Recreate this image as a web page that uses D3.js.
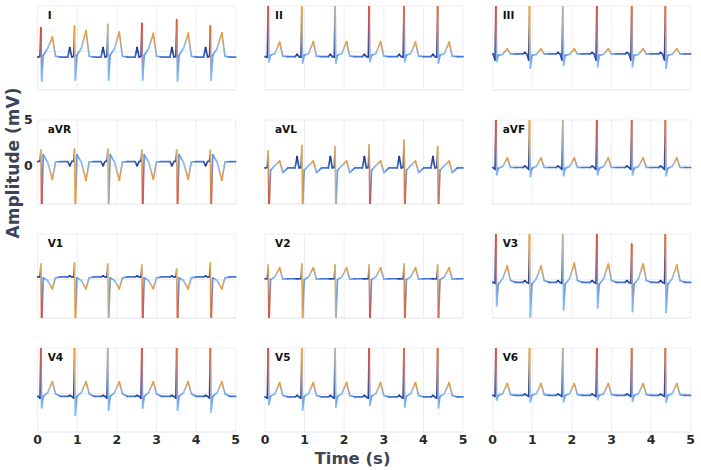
<!DOCTYPE html>
<html>
<head>
<meta charset="utf-8">
<script src="https://cdn.jsdelivr.net/npm/d3@7"></script>
<style>
  body { margin: 0; background: #fff; }
  svg { display: block; font-family: "DejaVu Sans", sans-serif; }
</style>
</head>
<body>
<svg id="chart" width="701" height="470"></svg>
<script>
// ---- data (mV, seconds) ----
const leads = ['I', 'II', 'III', 'aVR', 'aVL', 'aVF', 'V1', 'V2', 'V3', 'V4', 'V5', 'V6'];
const beatTimes = [0.08, 0.93, 1.77, 2.63, 3.51, 4.36];
const beatWeight = [1.0, 0.8, 0.66, 1.0, 0.95, 0.93];   // relevance at each R spike
const xTicks = [0, 1, 2, 3, 4, 5];
const yTicks = [0, 5];

// key points of one beat, offset from R (s)
const beatOffsets = [-0.17, -0.12, -0.07, -0.02, 0, 0.02, 0.06, 0.17, 0.29, 0.37, 0.5];
const pointWeight = [0.3, 0.05, 0.2, 0.1, null, null, 0.42, 0.55, 0.82, 0.5, 0.32];

const spikeDir  = [1, 1, 1, -1, -1, 1, -1, -1, 1, 1, 1, 1];
const baseLevel = [-0.6, -0.55, -0.25, 0.45, -0.25, -0.2, 0.3, 0.1, -0.3, -0.3, -0.36, -0.18];
const pWave     = [0.45, -0.3, -0.1, 0.0, 1.0, -0.05, 0.4, 0.1, -0.1, -0.2, -0.2, -0.05];
const qWave     = [-0.5, -0.6, -0.9, 0.5, -0.2, -0.4, 0.3, 0.1, -0.4, -0.5, -0.5, -0.3];
const jPoint    = [-0.4, -0.4, -0.4, 1.2, -0.5, -0.3, 0.2, 0.0, -0.5, -0.3, -0.3, -0.2];
const stLevel   = [0.35, -0.2, -0.3, 0.4, 0.0, -0.1, -0.1, 0.3, 0.1, 0.1, 0.0, 0.0];
const postT     = [-0.5, -0.5, -0.25, 0.4, -0.75, -0.2, 0.2, 0.05, -0.1, 0.0, -0.2, -0.1];

const rPeaks = [
  [2.6, 2.8, 3.0, 3.1, 3.5, 2.8],
  [5.5, 5.5, 5.5, 5.5, 5.5, 5.5],
  [5.5, 5.5, 5.5, 5.5, 5.5, 5.5],
  [1.7, 1.8, 1.8, 1.7, 1.7, 1.7],
  [1.6, 2.2, 2.05, 2.3, 2.8, 2.1],
  [5.5, 5.5, 5.5, 5.5, 5.5, 5.5],
  [1.7, 1.85, 1.7, 1.6, 1.15, 1.8],
  [1.6, 1.7, 1.6, 1.6, 1.7, 1.6],
  [5.5, 5.5, 5.5, 5.5, 3.9, 5.5],
  [5.5, 5.5, 5.5, 5.5, 5.5, 5.5],
  [5.5, 5.5, 5.5, 5.5, 5.5, 5.5],
  [5.5, 5.5, 5.5, 5.5, 5.5, 5.5]
];
const sTroughs = [
  [-3.2, -3.1, -3.1, -3.1, -3.2, -3.1],
  [-1.1, -1.25, -1.25, -1.1, -1.1, -1.25],
  [-1.1, -1.8, -1.5, -1.65, -1.65, -1.8],
  [-5, -5, -5, -5, -5, -5],
  [-5, -5, -5, -5, -5, -5],
  [-1.0, -1.2, -1.1, -1.0, -1.0, -1.1],
  [-5, -5, -5, -5, -5, -5],
  [-4.6, -4.6, -4.6, -4.6, -4.6, -4.6],
  [-2.85, -4.1, -3.3, -3.1, -3.5, -3.6],
  [-1.55, -2.35, -1.8, -1.6, -1.8, -2.0],
  [-1.2, -1.8, -1.45, -1.27, -1.45, -1.55],
  [-0.7, -0.9, -0.9, -0.65, -0.85, -0.95]
];
const tWaves = [
  [1.6, 2.3, 2.15, 2.0, 2.0, 2.05],
  [1.05, 1.1, 1.1, 1.1, 1.05, 1.05],
  [0.3, 0.3, 0.3, 0.3, 0.3, 0.3],
  [-1.5, -1.6, -1.6, -1.5, -1.5, -1.6],
  [0.5, 0.5, 0.5, 0.5, 0.5, 0.5],
  [0.85, 0.85, 0.85, 0.85, 0.85, 0.85],
  [-1.0, -1.0, -1.0, -1.0, -1.0, -1.0],
  [1.3, 1.3, 1.3, 1.3, 1.3, 1.3],
  [1.5, 1.5, 1.8, 1.7, 1.7, 1.6],
  [1.3, 1.3, 1.3, 1.3, 1.3, 1.3],
  [1.2, 1.2, 1.2, 1.2, 1.2, 1.2],
  [1.1, 1.1, 1.1, 1.1, 1.1, 1.1]
];

// ---- layout ----
const colLeft = [37.7, 265, 492.7];
const rowTop = [6, 120, 234, 348];
const PW = 198, PH = 84;

const relColor = d3.scaleLinear()
  .domain([0, 0.3, 0.55, 0.78, 1])
  .range(['#152c7a', '#3f6fd1', '#86c0fb', '#f8ac2c', '#e8432a'])
  .clamp(true);

const svg = d3.select('#chart');
const defs = svg.append('defs');
let gradId = 0;

function leadPoints(li) {
  const pts = [[0, baseLevel[li], 0.32]];
  beatTimes.forEach((t0, bi) => {
    const up = spikeDir[li] > 0 ? beatWeight[bi] : 0.72;
    const down = spikeDir[li] > 0 ? 0.55 : beatWeight[bi];
    const vals = [baseLevel[li], pWave[li], baseLevel[li], qWave[li], rPeaks[li][bi],
                  sTroughs[li][bi], jPoint[li], stLevel[li], tWaves[li][bi], postT[li], baseLevel[li]];
    beatOffsets.forEach((dt, k) => {
      const t = t0 + dt;
      if (t < 0 || t > 5) return;
      const w = k === 4 ? up : k === 5 ? down : pointWeight[k];
      pts.push([t, vals[k], w]);
    });
  });
  pts.push([5, baseLevel[li], 0.32]);
  return pts;
}

leads.forEach((name, li) => {
  const col = li % 3, row = Math.floor(li / 3);
  const x = d3.scaleLinear().domain([0, 5]).range([colLeft[col], colLeft[col] + PW]);
  const y = d3.scaleLinear().domain([-4.2, 5]).range([rowTop[row] + PH, rowTop[row]]);

  const g = svg.append('g');

  // grid
  g.selectAll('.vg').data(xTicks).enter().append('line')
    .attr('x1', d => x(d)).attr('x2', d => x(d))
    .attr('y1', y(5)).attr('y2', y(-4.2))
    .attr('stroke', '#eceef3').attr('stroke-width', 1);
  g.selectAll('.hg').data(yTicks).enter().append('line')
    .attr('x1', x(0)).attr('x2', x(5))
    .attr('y1', d => y(d)).attr('y2', d => y(d))
    .attr('stroke', '#eceef3').attr('stroke-width', 1);
  g.append('line')
    .attr('x1', x(0)).attr('x2', x(5))
    .attr('y1', y(-4.2)).attr('y2', y(-4.2))
    .attr('stroke', '#e1e3ea').attr('stroke-width', 1.2);

  // clip
  const clipId = 'clip' + li;
  defs.append('clipPath').attr('id', clipId).append('rect')
    .attr('x', x(0) - 2).attr('y', y(5)).attr('width', PW + 4).attr('height', PH);

  const pts = leadPoints(li);
  const segs = d3.pairs(pts);
  const trace = g.append('g').attr('clip-path', `url(#${clipId})`);
  segs.forEach(([a, b]) => {
    const id = 'gr' + (gradId++);
    const lg = defs.append('linearGradient').attr('id', id)
      .attr('gradientUnits', 'userSpaceOnUse')
      .attr('x1', x(a[0])).attr('y1', y(a[1]))
      .attr('x2', x(b[0])).attr('y2', y(b[1]) + 0.01);
    lg.append('stop').attr('offset', 0).attr('stop-color', relColor(a[2]));
    lg.append('stop').attr('offset', 1).attr('stop-color', relColor(b[2]));
    trace.append('line')
      .attr('x1', x(a[0])).attr('y1', y(a[1]))
      .attr('x2', x(b[0])).attr('y2', y(b[1]))
      .attr('stroke', `url(#${id})`)
      .attr('stroke-width', 1.7)
      .attr('stroke-linecap', 'round');
  });

  // lead label
  g.append('text')
    .attr('x', x(0) + 10).attr('y', y(5) + 13)
    .attr('font-size', 10.5).attr('font-weight', 'bold').attr('fill', '#111')
    .text(name);

  // x ticks on bottom row
  if (row === 3) {
    g.selectAll('.xt').data(xTicks).enter().append('text')
      .attr('x', d => x(d)).attr('y', y(-4.2) + 12)
      .attr('text-anchor', 'middle')
      .attr('font-size', 12.5).attr('font-weight', 'bold').attr('fill', '#2a2a2a')
      .text(d => d);
  }
  // y ticks only on aVR
  if (name === 'aVR') {
    g.selectAll('.yt').data(yTicks).enter().append('text')
      .attr('x', x(0) - 5).attr('y', d => y(d))
      .attr('dy', '0.35em')
      .attr('text-anchor', 'end')
      .attr('font-size', 12.5).attr('font-weight', 'bold').attr('fill', '#2a2a2a')
      .text(d => d);
  }
});

// axis titles
svg.append('text')
  .attr('x', 352.5).attr('y', 463.5)
  .attr('text-anchor', 'middle')
  .attr('font-size', 16.5).attr('font-weight', 'bold').attr('fill', '#3b4558')
  .text('Time (s)');
svg.append('text')
  .attr('transform', 'translate(13,163) rotate(-90)')
  .attr('dy', '0.35em')
  .attr('text-anchor', 'middle')
  .attr('font-size', 17).attr('font-weight', 'bold').attr('fill', '#3b4558')
  .text('Amplitude (mV)');
</script>
</body>
</html>
